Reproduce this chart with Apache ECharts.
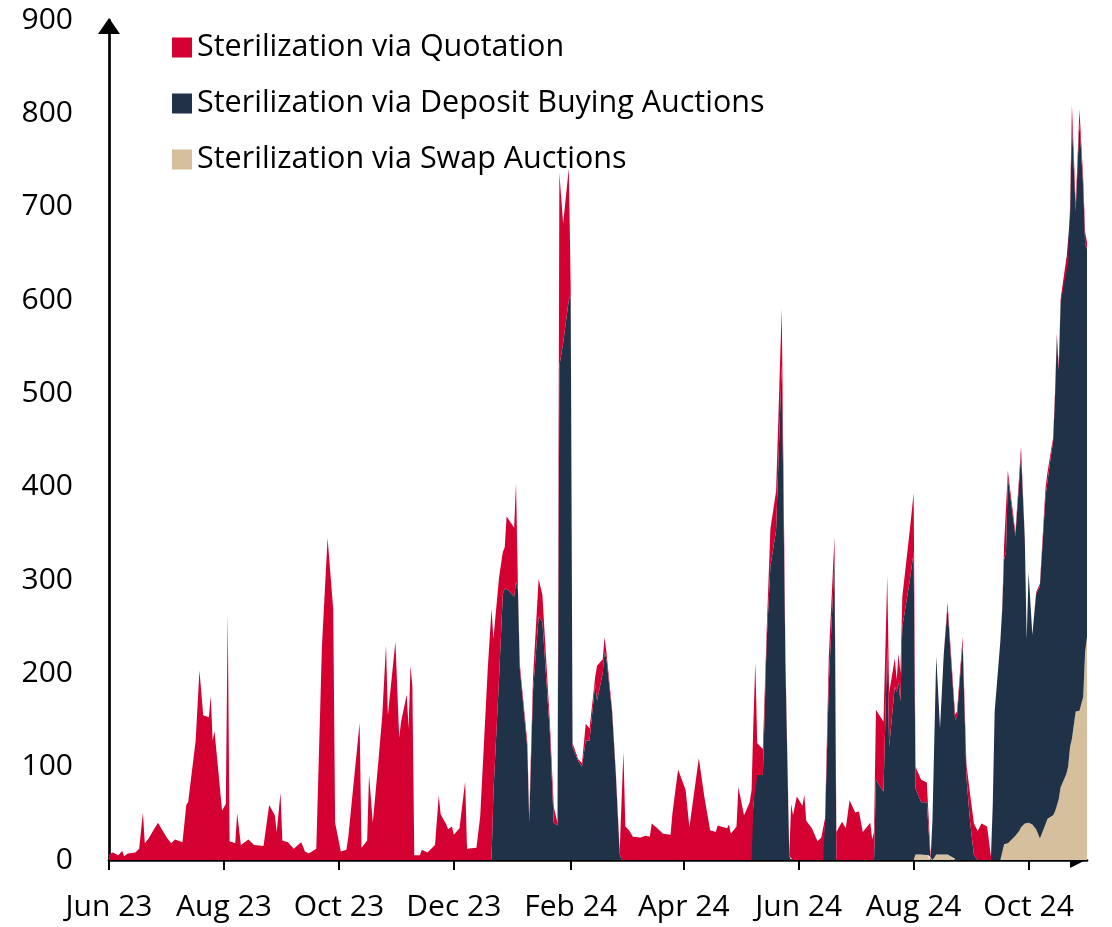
<!DOCTYPE html>
<html>
<head>
<meta charset="utf-8">
<title>Sterilization</title>
<script src="https://cdn.jsdelivr.net/npm/echarts@6/dist/echarts.min.js"></script>
<style>
  html, body { margin: 0; padding: 0; background: #fff; }
  #chart { width: 1112px; height: 927px; }
</style>
</head>
<body>
<div id="chart"></div>
<script>
// one line per month
const dates = [
  '2023-06-01','2023-06-03','2023-06-06','2023-06-08','2023-06-09','2023-06-11','2023-06-15','2023-06-17','2023-06-19','2023-06-20','2023-06-22','2023-06-24','2023-06-27','2023-06-29',
  '2023-07-02','2023-07-04','2023-07-06','2023-07-10','2023-07-12','2023-07-13','2023-07-17','2023-07-19','2023-07-21','2023-07-24','2023-07-25','2023-07-26','2023-07-27','2023-07-31',
  '2023-08-02','2023-08-03','2023-08-04','2023-08-07','2023-08-08','2023-08-10','2023-08-14','2023-08-17','2023-08-22','2023-08-23','2023-08-25','2023-08-28','2023-08-29','2023-08-31',
  '2023-09-01','2023-09-04','2023-09-07','2023-09-11','2023-09-13','2023-09-15','2023-09-19','2023-09-20','2023-09-22','2023-09-25','2023-09-28','2023-09-29',
  '2023-10-02','2023-10-05','2023-10-06','2023-10-12','2023-10-13','2023-10-16','2023-10-17','2023-10-19','2023-10-22','2023-10-24','2023-10-25','2023-10-26','2023-10-27','2023-10-31',
  '2023-11-02','2023-11-03','2023-11-06','2023-11-07','2023-11-08','2023-11-09','2023-11-10','2023-11-13','2023-11-14','2023-11-17','2023-11-21','2023-11-23','2023-11-24','2023-11-27','2023-11-28','2023-11-30',
  '2023-12-01','2023-12-04','2023-12-07','2023-12-08','2023-12-13','2023-12-15','2023-12-19','2023-12-21','2023-12-22','2023-12-25','2023-12-27','2023-12-28','2023-12-29','2023-12-30',
  '2024-01-02','2024-01-03','2024-01-04','2024-01-05','2024-01-09','2024-01-10','2024-01-12','2024-01-15','2024-01-17','2024-01-21','2024-01-23','2024-01-25','2024-01-26','2024-01-28','2024-01-31',
  '2024-02-01','2024-02-02','2024-02-05','2024-02-07','2024-02-09','2024-02-11','2024-02-14','2024-02-15','2024-02-18','2024-02-19','2024-02-20','2024-02-23','2024-02-25','2024-02-27','2024-02-28','2024-02-29',
  '2024-03-01','2024-03-03','2024-03-05','2024-03-09','2024-03-12','2024-03-14','2024-03-15','2024-03-18','2024-03-19','2024-03-21','2024-03-25','2024-03-26','2024-03-29',
  '2024-04-02','2024-04-04','2024-04-09','2024-04-12','2024-04-15','2024-04-16','2024-04-18','2024-04-19','2024-04-24','2024-04-25','2024-04-26','2024-04-29','2024-04-30',
  '2024-05-03','2024-05-06','2024-05-07','2024-05-08','2024-05-09','2024-05-10','2024-05-13','2024-05-15','2024-05-17','2024-05-20','2024-05-23','2024-05-25','2024-05-27','2024-05-28','2024-05-29','2024-05-30','2024-05-31',
  '2024-06-03','2024-06-04','2024-06-05','2024-06-08','2024-06-11','2024-06-13','2024-06-14','2024-06-15','2024-06-17','2024-06-20','2024-06-21','2024-06-24','2024-06-26','2024-06-28',
  '2024-07-01','2024-07-03','2024-07-05','2024-07-09','2024-07-10','2024-07-11','2024-07-12','2024-07-16','2024-07-18','2024-07-19','2024-07-22','2024-07-23','2024-07-24','2024-07-25','2024-07-26','2024-07-30',
  '2024-08-01','2024-08-02','2024-08-05','2024-08-08','2024-08-09','2024-08-10','2024-08-11','2024-08-13','2024-08-15','2024-08-17','2024-08-19','2024-08-23','2024-08-24','2024-08-27','2024-08-29','2024-08-31',
  '2024-09-02','2024-09-04','2024-09-06','2024-09-09','2024-09-11','2024-09-12','2024-09-13','2024-09-16','2024-09-17','2024-09-18','2024-09-19','2024-09-20','2024-09-24','2024-09-26','2024-09-27','2024-09-29','2024-09-30',
  '2024-10-01','2024-10-03','2024-10-05','2024-10-07','2024-10-10','2024-10-11','2024-10-13','2024-10-14','2024-10-15','2024-10-16','2024-10-17','2024-10-18','2024-10-21','2024-10-22','2024-10-23','2024-10-24','2024-10-26','2024-10-28','2024-10-30','2024-10-31',
  '2024-11-01'
];

const quotation = [
  6, 8, 5, 10, 4, 7, 8, 12, 51, 18, 23, 30, 40, 33,
  23, 18, 22, 19, 59, 62, 128, 203, 155, 153, 176, 128, 138, 53,
  60, 264, 20, 18, 50, 16, 22, 16, 15, 13, 59, 48, 30, 72,
  21, 19, 12, 19, 9, 7, 12, 11, 229, 345, 268, 40,
  9, 11, 25, 147, 13, 21, 91, 40, 107, 154, 152, 230, 155, 234,
  131, 148, 177, 141, 208, 186, 5, 5, 11, 8, 16, 69, 49, 38, 33, 36,
  27, 34, 84, 12, 13, 47, 205, 269, 165, 108, 45, 44, 78, 76,
  74, 106, 4, 5, 6, 7, 15, 40, 29, 11, 17, 3, 207, 128, 141,
  10, 4, 2, 4, 18, 13, 7, 37, 15, 16, 7, 3, 3, 3, 8, 116,
  36, 32, 25, 24, 26, 25, 39, 34, 34, 28, 27, 50, 97,
  75, 35, 109, 67, 32, 34, 30, 37, 34, 38, 28, 36, 78,
  48, 62, 75, 90, 121, 34, 28, 12, 40, 42, 60, 9, 2, 60, 48, 58, 68,
  58, 70, 42, 34, 20, 24, 24, 5, 29, 25, 30, 41, 34, 64,
  51, 52, 30, 40, 22, 30, 75, 75, 75, 58, 30, 13, 31, 30, 32, 54,
  63, 23, 24, 21, 15, 4, 0, 0, 0, 0, 6, 6, 6, 7, 14, 30,
  34, 31, 39, 36, 4, 0, 0, 0, 2, 15, 5, 7, 4, 7, 8, 2, 0,
  0, 0, 2, 3, 9, 10, 5, 4, 5, 4, 4, 4, 4, 9, 10, 19, 8, 14, 9, 13,
  7
];

const depositAuctions = [
  0, 0, 0, 0, 0, 0, 0, 0, 0, 0, 0, 0, 0, 0,
  0, 0, 0, 0, 0, 0, 0, 0, 0, 0, 0, 0, 0, 0,
  0, 0, 0, 0, 0, 0, 0, 0, 0, 0, 0, 0, 0, 0,
  0, 0, 0, 0, 0, 0, 0, 0, 0, 0, 0, 0,
  0, 0, 0, 0, 0, 0, 0, 0, 0, 0, 0, 0, 0, 0,
  0, 0, 0, 0, 0, 0, 0, 0, 0, 0, 0, 0, 0, 0, 0, 0,
  0, 0, 0, 0, 0, 0, 0, 0, 72, 195, 285, 291, 290, 289,
  282, 298, 290, 205, 120, 40, 180, 261, 255, 135, 40, 37, 529, 554, 600,
  605, 121, 106, 100, 128, 128, 189, 171, 200, 223, 215, 158, 90, 7, 0, 0,
  0, 0, 0, 0, 0, 0, 0, 0, 0, 0, 0, 0, 0,
  0, 0, 0, 0, 0, 0, 0, 0, 0, 0, 0, 0, 0,
  0, 0, 0, 60, 91, 91, 91, 234, 315, 353, 531, 205, 4, 0, 0, 0, 0,
  0, 0, 0, 0, 0, 0, 0, 40, 190, 321, 0, 0, 0, 0,
  0, 0, 0, 0, 0, 0, 86, 73, 229, 121, 186, 180, 190, 170, 250, 300,
  330, 71, 56, 56, 25, 0, 43, 212, 135, 215, 264, 150, 153, 232, 89, 40,
  5, 0, 0, 0, 0, 60, 159, 234, 251, 305, 313, 392, 321, 374, 400, 304, 195,
  268, 203, 252, 270, 348, 361, 389, 400, 443, 502, 460, 519, 548, 540, 569, 660, 536, 630, 545, 437,
  416
];

const swapAuctions = [
  0, 0, 0, 0, 0, 0, 0, 0, 0, 0, 0, 0, 0, 0,
  0, 0, 0, 0, 0, 0, 0, 0, 0, 0, 0, 0, 0, 0,
  0, 0, 0, 0, 0, 0, 0, 0, 0, 0, 0, 0, 0, 0,
  0, 0, 0, 0, 0, 0, 0, 0, 0, 0, 0, 0,
  0, 0, 0, 0, 0, 0, 0, 0, 0, 0, 0, 0, 0, 0,
  0, 0, 0, 0, 0, 0, 0, 0, 0, 0, 0, 0, 0, 0, 0, 0,
  0, 0, 0, 0, 0, 0, 0, 0, 0, 0, 0, 0, 0, 0,
  0, 0, 0, 0, 0, 0, 0, 0, 0, 0, 0, 0, 0, 0, 0,
  0, 0, 0, 0, 0, 0, 0, 0, 0, 0, 0, 0, 0, 0, 0, 0,
  0, 0, 0, 0, 0, 0, 0, 0, 0, 0, 0, 0, 0,
  0, 0, 0, 0, 0, 0, 0, 0, 0, 0, 0, 0, 0,
  0, 0, 0, 0, 0, 0, 0, 0, 0, 0, 0, 0, 0, 0, 0, 0, 0,
  0, 0, 0, 0, 0, 0, 0, 0, 0, 0, 0, 0, 0, 0,
  0, 0, 0, 0, 0, 0, 0, 0, 0, 0, 0, 0, 0, 0, 0, 0,
  0, 6, 6, 6, 5, 0, 0, 6, 6, 6, 6, 0, 0, 0, 0, 0,
  0, 0, 0, 0, 0, 0, 0, 0, 17, 17, 17, 18, 26, 31, 35, 39, 41,
  40, 38, 33, 23, 42, 44, 46, 48, 52, 58, 65, 78, 92, 100, 121, 130, 159, 160, 175, 223,
  239
];

const tickDates = ['2023-06-01', '2023-08-01', '2023-10-01', '2023-12-01', '2024-02-01',
  '2024-04-01', '2024-06-01', '2024-08-01', '2024-10-01'];
const monthNames = ['Jan', 'Feb', 'Mar', 'Apr', 'May', 'Jun', 'Jul', 'Aug', 'Sep', 'Oct', 'Nov', 'Dec'];

const names = ['Sterilization via Quotation', 'Sterilization via Deposit Buying Auctions', 'Sterilization via Swap Auctions'];
const colors = ['#d50032', '#1f3247', '#d5bf9d'];

const FONT = 'Open Sans';
const START = '2023-06-01';
const END = '2024-11-01';
const toTime = d => echarts.time.parse(d).getTime();
const tickValues = tickDates.map(toTime);

function areaSeries(name, values, color) {
  return {
    name: name,
    type: 'line',
    xAxisIndex: 0,
    stack: 'total',
    symbol: 'none',
    showSymbol: false,
    color: color,
    lineStyle: { width: 0, color: color },
    itemStyle: { color: color },
    areaStyle: { color: color, opacity: 1 },
    data: dates.map((d, i) => [d, values[i]])
  };
}

const chart = echarts.init(document.getElementById('chart'));
chart.setOption({
  animation: false,
  backgroundColor: '#fff',
  grid: { left: 109, right: 25, top: 20, bottom: 67, outerBoundsMode: 'none' },
  legend: {
    data: names,
    orient: 'vertical',
    left: 167,
    top: 27,
    icon: 'rect',
    itemWidth: 20,
    itemHeight: 20,
    itemGap: 25,
    textStyle: { fontFamily: FONT, fontSize: 30.5, lineHeight: 30, color: '#000' }
  },
  xAxis: [
    // time axis that carries the data, drawn by the second axis below
    {
      type: 'time',
      min: START,
      max: END,
      show: false
    },
    // same span as plain numbers, so ticks can sit on every other month start
    {
      type: 'value',
      position: 'bottom',
      min: toTime(START),
      max: toTime(END),
      splitLine: { show: false },
      axisLine: {
        lineStyle: { color: '#000', width: 2.7 },
        symbol: ['none', 'triangle'],
        symbolSize: [16, 16],
        symbolOffset: [0, -9]
      },
      axisTick: {
        show: true,
        length: 10,
        customValues: tickValues,
        lineStyle: { color: '#000', width: 2 }
      },
      axisLabel: {
        customValues: tickValues,
        margin: 32,
        color: '#000',
        fontFamily: FONT,
        fontSize: 30,
        formatter: function (v) {
          const d = new Date(v);
          return monthNames[d.getMonth()] + ' ' + String(d.getFullYear()).slice(2);
        }
      }
    }
  ],
  yAxis: {
    type: 'value',
    min: 0,
    max: 900,
    interval: 100,
    splitLine: { show: false },
    axisTick: { show: false },
    axisLine: {
      show: true,
      lineStyle: { color: '#000', width: 2.7 },
      symbol: ['none', 'triangle'],
      symbolSize: [22, 16],
      symbolOffset: [0, -6]
    },
    axisLabel: { margin: 36, color: '#000', fontFamily: FONT, fontSize: 30 }
  },
  // bottom of the stack first
  series: [
    areaSeries(names[2], swapAuctions, colors[2]),
    areaSeries(names[1], depositAuctions, colors[1]),
    areaSeries(names[0], quotation, colors[0])
  ]
});
</script>
</body>
</html>
